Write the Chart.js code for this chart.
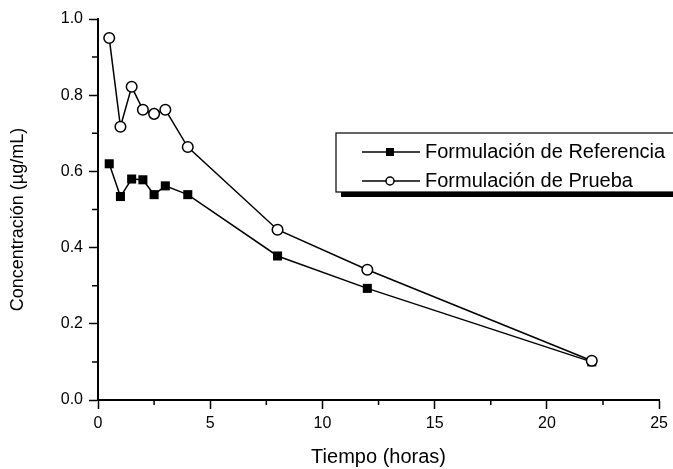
<!DOCTYPE html>
<html>
<head>
<meta charset="utf-8">
<script src="https://cdn.jsdelivr.net/npm/chart.js@4/dist/chart.umd.min.js"></script>
<style>
  html, body { margin: 0; padding: 0; background: #fff; }
  #wrap { width: 673px; height: 469px; }
</style>
</head>
<body>
<div id="wrap"><canvas id="pkChart"></canvas></div>
<script>
// datos
const tiempo = [0.5, 1, 1.5, 2, 2.5, 3, 4, 8, 12, 22];
const referencia = [0.62, 0.534, 0.58, 0.578, 0.539, 0.562, 0.539, 0.378, 0.293, 0.10];
const prueba = [0.95, 0.717, 0.822, 0.762, 0.751, 0.762, 0.664, 0.447, 0.342, 0.103];
const xTicks = [0, 5, 10, 15, 20, 25];
const yTicks = [0.0, 0.2, 0.4, 0.6, 0.8, 1.0];
const xMinor = [2.5, 7.5, 12.5, 17.5, 22.5];
const yMinor = [0.1, 0.3, 0.5, 0.7, 0.9];
const etiquetas = ['Formulación de Referencia', 'Formulación de Prueba'];

const FONT = '"Liberation Sans", Arial, sans-serif';

function toPoints(ys) {
    return tiempo.map((t, i) => ({ x: t, y: ys[i] }));
}

// ticks menores, dibujados con las escalas del gráfico
const minorTicks = {
    id: 'minorTicks',
    afterDraw(chart) {
        const ctx = chart.ctx;
        const xs = chart.scales.x, ys = chart.scales.y;
        const area = chart.chartArea;
        ctx.save();
        ctx.strokeStyle = '#000';
        ctx.lineWidth = 1.5;
        ctx.beginPath();
        xMinor.forEach(v => {
            const px = xs.getPixelForValue(v);
            ctx.moveTo(px, area.bottom);
            ctx.lineTo(px, area.bottom + 5);
        });
        yMinor.forEach(v => {
            const py = ys.getPixelForValue(v);
            ctx.moveTo(area.left, py);
            ctx.lineTo(area.left - 6, py);
        });
        ctx.stroke();
        ctx.restore();
    }
};

// leyenda con caja y sombra
const boxLegend = {
    id: 'boxLegend',
    afterDraw(chart) {
        const ctx = chart.ctx;
        const left = 336, top = 133, w = 400, h = 59;
        ctx.save();
        ctx.fillStyle = '#000';
        ctx.fillRect(left + 5, top + h, w, 5);
        ctx.fillStyle = '#fff';
        ctx.fillRect(left, top, w, h);
        ctx.strokeStyle = '#000';
        ctx.lineWidth = 1.2;
        ctx.strokeRect(left, top, w, h);

        const rows = [152, 181];
        chart.data.datasets.forEach((ds, i) => {
            const y = rows[i];
            ctx.strokeStyle = '#000';
            ctx.lineWidth = 1.5;
            ctx.beginPath();
            ctx.moveTo(362, y);
            ctx.lineTo(420, y);
            ctx.stroke();
            if (ds.pointStyle === 'rect') {
                ctx.fillStyle = '#000';
                ctx.fillRect(386, y - 4, 8, 8);
            } else {
                ctx.fillStyle = '#fff';
                ctx.beginPath();
                ctx.arc(390, y, 4, 0, Math.PI * 2);
                ctx.fill();
                ctx.stroke();
            }
            ctx.fillStyle = '#000';
            ctx.font = '20px ' + FONT;
            ctx.textBaseline = 'middle';
            ctx.textAlign = 'left';
            ctx.fillText(ds.label, 425, y);
        });
        ctx.restore();
    }
};

const ctx = document.getElementById('pkChart').getContext('2d');
new Chart(ctx, {
    type: 'scatter',
    data: {
        datasets: [
            {
                label: etiquetas[0],
                data: toPoints(referencia),
                showLine: true,
                borderColor: '#000',
                borderWidth: 1.5,
                backgroundColor: '#000',
                pointStyle: 'rect',
                pointRadius: 6.4,
                pointBorderWidth: 0,
                tension: 0,
                order: 1
            },
            {
                label: etiquetas[1],
                data: toPoints(prueba),
                showLine: true,
                borderColor: '#000',
                borderWidth: 1.5,
                backgroundColor: '#fff',
                pointStyle: 'circle',
                pointRadius: 5.3,
                pointBorderWidth: 1.5,
                tension: 0,
                order: 0
            }
        ]
    },
    options: {
        responsive: true,
        maintainAspectRatio: false,
        animation: false,
        events: [],
        layout: {
            padding: { top: 19, right: 13, left: 0, bottom: 0 }
        },
        plugins: {
            legend: { display: false },
            tooltip: { enabled: false }
        },
        scales: {
            x: {
                type: 'linear',
                min: 0,
                max: 25,
                afterFit(scale) { scale.height = 69; },
                afterBuildTicks(scale) { scale.ticks = xTicks.map(v => ({ value: v })); },
                border: { display: true, color: '#000', width: 2 },
                grid: {
                    drawOnChartArea: false,
                    drawTicks: true,
                    tickLength: 9,
                    tickWidth: 1.5,
                    tickColor: '#000'
                },
                ticks: {
                    color: '#000',
                    padding: 5,
                    maxRotation: 0,
                    font: { family: FONT, size: 16 },
                    callback: v => String(v)
                },
                title: {
                    display: true,
                    text: 'Tiempo (horas)',
                    color: '#000',
                    padding: { top: 0, bottom: 0 },
                    font: { family: FONT, size: 20 }
                }
            },
            y: {
                type: 'linear',
                min: 0,
                max: 1,
                afterFit(scale) { scale.width = 98; },
                afterBuildTicks(scale) { scale.ticks = yTicks.map(v => ({ value: v })); },
                border: { display: true, color: '#000', width: 2 },
                grid: {
                    drawOnChartArea: false,
                    drawTicks: true,
                    tickLength: 9,
                    tickWidth: 1.5,
                    tickColor: '#000'
                },
                ticks: {
                    color: '#000',
                    padding: 6,
                    font: { family: FONT, size: 16 },
                    callback: v => Number(v).toFixed(1)
                },
                title: {
                    display: true,
                    // espacios finales: el título está un poco más abajo que el centro
                    text: 'Concentración (µg/mL)\u00a0\u00a0\u00a0\u00a0',
                    color: '#000',
                    padding: { top: 7, bottom: 0 },
                    font: { family: FONT, size: 18 }
                }
            }
        }
    },
    plugins: [minorTicks, boxLegend]
});
</script>
</body>
</html>
